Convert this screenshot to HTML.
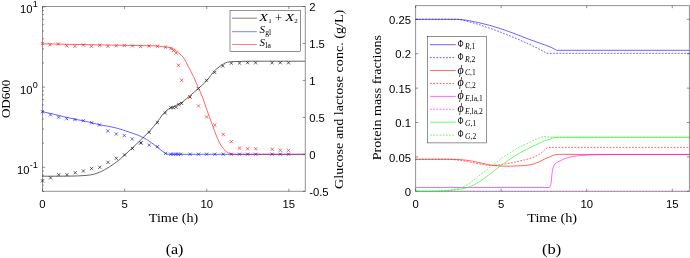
<!DOCTYPE html>
<html><head><meta charset="utf-8"><style>
html,body{margin:0;padding:0;background:#fff;}
svg{display:block;will-change:transform;}
</style></head><body>
<svg width="690" height="258" viewBox="0 0 690 258">
<rect width="690" height="258" fill="#fff"/>
<g>
<line x1="42.5" y1="6.5" x2="305.3" y2="6.5" stroke="#262626" stroke-width="0.5"/>
<line x1="42.5" y1="191.3" x2="305.3" y2="191.3" stroke="#262626" stroke-width="0.5"/>
<line x1="42.5" y1="6.5" x2="42.5" y2="191.3" stroke="#262626" stroke-width="0.5"/>
<line x1="305.3" y1="6.5" x2="305.3" y2="191.3" stroke="#262626" stroke-width="0.5"/>
<line x1="42.5" y1="191.3" x2="42.5" y2="188.7" stroke="#262626" stroke-width="0.5"/>
<line x1="42.5" y1="6.5" x2="42.5" y2="9.1" stroke="#262626" stroke-width="0.5"/>
<text x="42.5" y="208.2" font-size="11.3" text-anchor="middle" font-family='"Liberation Sans", sans-serif'>0</text>
<line x1="124.62" y1="191.3" x2="124.62" y2="188.7" stroke="#262626" stroke-width="0.5"/>
<line x1="124.62" y1="6.5" x2="124.62" y2="9.1" stroke="#262626" stroke-width="0.5"/>
<text x="124.62" y="208.2" font-size="11.3" text-anchor="middle" font-family='"Liberation Sans", sans-serif'>5</text>
<line x1="206.75" y1="191.3" x2="206.75" y2="188.7" stroke="#262626" stroke-width="0.5"/>
<line x1="206.75" y1="6.5" x2="206.75" y2="9.1" stroke="#262626" stroke-width="0.5"/>
<text x="206.75" y="208.2" font-size="11.3" text-anchor="middle" font-family='"Liberation Sans", sans-serif'>10</text>
<line x1="288.88" y1="191.3" x2="288.88" y2="188.7" stroke="#262626" stroke-width="0.5"/>
<line x1="288.88" y1="6.5" x2="288.88" y2="9.1" stroke="#262626" stroke-width="0.5"/>
<text x="288.88" y="208.2" font-size="11.3" text-anchor="middle" font-family='"Liberation Sans", sans-serif'>15</text>
<line x1="42.5" y1="191.44" x2="44.06" y2="191.44" stroke="#262626" stroke-width="0.5"/>
<line x1="42.5" y1="185.09" x2="44.06" y2="185.09" stroke="#262626" stroke-width="0.5"/>
<line x1="42.5" y1="179.72" x2="44.06" y2="179.72" stroke="#262626" stroke-width="0.5"/>
<line x1="42.5" y1="175.07" x2="44.06" y2="175.07" stroke="#262626" stroke-width="0.5"/>
<line x1="42.5" y1="170.97" x2="44.06" y2="170.97" stroke="#262626" stroke-width="0.5"/>
<line x1="42.5" y1="167.3" x2="45.1" y2="167.3" stroke="#262626" stroke-width="0.5"/>
<line x1="42.5" y1="143.16" x2="44.06" y2="143.16" stroke="#262626" stroke-width="0.5"/>
<line x1="42.5" y1="129.03" x2="44.06" y2="129.03" stroke="#262626" stroke-width="0.5"/>
<line x1="42.5" y1="119.01" x2="44.06" y2="119.01" stroke="#262626" stroke-width="0.5"/>
<line x1="42.5" y1="111.24" x2="44.06" y2="111.24" stroke="#262626" stroke-width="0.5"/>
<line x1="42.5" y1="104.89" x2="44.06" y2="104.89" stroke="#262626" stroke-width="0.5"/>
<line x1="42.5" y1="99.52" x2="44.06" y2="99.52" stroke="#262626" stroke-width="0.5"/>
<line x1="42.5" y1="94.87" x2="44.06" y2="94.87" stroke="#262626" stroke-width="0.5"/>
<line x1="42.5" y1="90.77" x2="44.06" y2="90.77" stroke="#262626" stroke-width="0.5"/>
<line x1="42.5" y1="87.1" x2="45.1" y2="87.1" stroke="#262626" stroke-width="0.5"/>
<line x1="42.5" y1="62.96" x2="44.06" y2="62.96" stroke="#262626" stroke-width="0.5"/>
<line x1="42.5" y1="48.83" x2="44.06" y2="48.83" stroke="#262626" stroke-width="0.5"/>
<line x1="42.5" y1="38.81" x2="44.06" y2="38.81" stroke="#262626" stroke-width="0.5"/>
<line x1="42.5" y1="31.04" x2="44.06" y2="31.04" stroke="#262626" stroke-width="0.5"/>
<line x1="42.5" y1="24.69" x2="44.06" y2="24.69" stroke="#262626" stroke-width="0.5"/>
<line x1="42.5" y1="19.32" x2="44.06" y2="19.32" stroke="#262626" stroke-width="0.5"/>
<line x1="42.5" y1="14.67" x2="44.06" y2="14.67" stroke="#262626" stroke-width="0.5"/>
<line x1="42.5" y1="10.57" x2="44.06" y2="10.57" stroke="#262626" stroke-width="0.5"/>
<line x1="42.5" y1="6.9" x2="45.1" y2="6.9" stroke="#262626" stroke-width="0.5"/>
<line x1="305.3" y1="191.3" x2="302.7" y2="191.3" stroke="#262626" stroke-width="0.5"/>
<text x="309.2" y="196.2" font-size="11.3" text-anchor="start" font-family='"Liberation Sans", sans-serif'>-0.5</text>
<line x1="305.3" y1="154.34" x2="302.7" y2="154.34" stroke="#262626" stroke-width="0.5"/>
<text x="309.2" y="159.24" font-size="11.3" text-anchor="start" font-family='"Liberation Sans", sans-serif'>0</text>
<line x1="305.3" y1="117.38" x2="302.7" y2="117.38" stroke="#262626" stroke-width="0.5"/>
<text x="309.2" y="122.28" font-size="11.3" text-anchor="start" font-family='"Liberation Sans", sans-serif'>0.5</text>
<line x1="305.3" y1="80.42" x2="302.7" y2="80.42" stroke="#262626" stroke-width="0.5"/>
<text x="309.2" y="85.32" font-size="11.3" text-anchor="start" font-family='"Liberation Sans", sans-serif'>1</text>
<line x1="305.3" y1="43.46" x2="302.7" y2="43.46" stroke="#262626" stroke-width="0.5"/>
<text x="309.2" y="48.36" font-size="11.3" text-anchor="start" font-family='"Liberation Sans", sans-serif'>1.5</text>
<line x1="305.3" y1="6.5" x2="302.7" y2="6.5" stroke="#262626" stroke-width="0.5"/>
<text x="309.2" y="11.4" font-size="11.3" text-anchor="start" font-family='"Liberation Sans", sans-serif'>2</text>
<text x="20" y="12.9" font-size="11.2" font-family='"Liberation Sans", sans-serif'>10<tspan font-size="9" dx="0.2" dy="-6.1">1</tspan></text>
<text x="20" y="93.6" font-size="11.2" font-family='"Liberation Sans", sans-serif'>10<tspan font-size="9" dx="0.2" dy="-6.1">0</tspan></text>
<text x="17" y="173.9" font-size="11.2" font-family='"Liberation Sans", sans-serif'>10<tspan font-size="9" dx="0.2" dy="-6.1">-1</tspan></text>
<path d="M42.4,111.7 C45.47,112.37 48.54,112.98 51.6,113.7 C55.51,114.62 59.39,115.68 63.3,116.6 C67.16,117.51 71.02,118.38 74.9,119.2 C78.76,120.01 82.66,120.63 86.5,121.5 C91.02,122.53 95.47,123.9 100,124.9 C102.57,125.47 105.21,125.72 107.8,126.2 C110.38,126.68 112.96,127.16 115.5,127.8 C118.13,128.46 120.72,129.28 123.3,130.1 C125.88,130.92 128.44,131.81 131,132.7 C133.61,133.61 136.27,134.41 138.8,135.5 C141.44,136.64 144.04,137.92 146.5,139.4 C149.21,141.02 151.76,142.92 154.3,144.8 C156.43,146.38 158.41,148.16 160.5,149.8 C161.81,150.83 163.11,151.9 164.5,152.8 C165.27,153.3 166.12,153.76 167,154 C167.95,154.26 169,154.3 170,154.3 C215,154.4 260,154.3 305,154.3" stroke="#0000ff" stroke-width="0.6" fill="none"/>
<path d="M40.8,110.1 L44,113.3 M40.8,113.3 L44,110.1 M48.9,113.3 L52.1,116.5 M48.9,116.5 L52.1,113.3 M57,115.6 L60.2,118.8 M57,118.8 L60.2,115.6 M65.1,117.1 L68.3,120.3 M65.1,120.3 L68.3,117.1 M73.3,117.9 L76.5,121.1 M73.3,121.1 L76.5,117.9 M81.7,119.1 L84.9,122.3 M81.7,122.3 L84.9,119.1 M90.1,121.1 L93.3,124.3 M90.1,124.3 L93.3,121.1 M97.9,123.3 L101.1,126.5 M97.9,126.5 L101.1,123.3 M106.2,129.3 L109.4,132.5 M106.2,132.5 L109.4,129.3 M114.7,132.4 L117.9,135.6 M114.7,135.6 L117.9,132.4 M122.7,133.9 L125.9,137.1 M122.7,137.1 L125.9,133.9 M130.7,137.3 L133.9,140.5 M130.7,140.5 L133.9,137.3 M139.2,141.4 L142.4,144.6 M139.2,144.6 L142.4,141.4 M147.6,143.5 L150.8,146.7 M147.6,146.7 L150.8,143.5 M155.8,145.1 L159,148.3 M155.8,148.3 L159,145.1 M164,151.8 L167.2,155 M164,155 L167.2,151.8 M169.2,152.6 L172.4,155.8 M169.2,155.8 L172.4,152.6 M171.7,152.6 L174.9,155.8 M171.7,155.8 L174.9,152.6 M174.2,152.6 L177.4,155.8 M174.2,155.8 L177.4,152.6 M176.6,152.6 L179.8,155.8 M176.6,155.8 L179.8,152.6 M179.1,152.6 L182.3,155.8 M179.1,155.8 L182.3,152.6 M188.5,152.6 L191.7,155.8 M188.5,155.8 L191.7,152.6 M196.9,152.6 L200.1,155.8 M196.9,155.8 L200.1,152.6 M205,152.6 L208.2,155.8 M205,155.8 L208.2,152.6 M213.2,152.6 L216.4,155.8 M213.2,155.8 L216.4,152.6 M221.6,152.6 L224.8,155.8 M221.6,155.8 L224.8,152.6 M229.7,152.6 L232.9,155.8 M229.7,155.8 L232.9,152.6 M237.9,152.6 L241.1,155.8 M237.9,155.8 L241.1,152.6 M246,152.6 L249.2,155.8 M246,155.8 L249.2,152.6 M254.1,152.6 L257.3,155.8 M254.1,155.8 L257.3,152.6 M270.5,152.6 L273.7,155.8 M270.5,155.8 L273.7,152.6 M278.7,152.6 L281.9,155.8 M278.7,155.8 L281.9,152.6 M286.9,152.6 L290.1,155.8 M286.9,155.8 L290.1,152.6 " stroke="#0000ff" stroke-width="0.6" fill="none"/>
<path d="M42.4,176.2 C48.27,176.2 54.13,176.24 60,176.2 C65,176.17 70,176.14 75,176 C78.34,175.91 81.68,175.82 85,175.5 C88.18,175.19 91.45,174.98 94.5,174.1 C97.92,173.11 101.24,171.57 104.4,169.9 C107.84,168.07 111.07,165.8 114.3,163.6 C116.27,162.26 118.18,160.83 120,159.3 C122.08,157.56 124.01,155.64 126,153.8 C128.01,151.94 130,150.07 132,148.2 C134.6,145.77 137.25,143.38 139.8,140.9 C143.15,137.65 146.54,134.43 149.7,131 C152.41,128.06 154.93,124.94 157.4,121.8 C159.13,119.61 160.56,117.18 162.3,115 C163.43,113.58 164.65,112.2 166,111 C167.21,109.93 168.6,109.01 170,108.2 C171.26,107.47 172.68,107.03 174,106.4 C175.55,105.66 177.08,104.89 178.6,104.1 C179.84,103.46 181.17,102.92 182.3,102.1 C184.87,100.22 187.26,98.06 189.7,96 C192.62,93.53 195.56,91.06 198.4,88.5 C201.36,85.83 204.43,83.24 207.1,80.3 C209.6,77.54 211.47,74.22 213.9,71.4 C215.04,70.08 216.44,68.99 217.8,67.9 C219.01,66.93 220.3,66.05 221.6,65.2 C222.86,64.38 224.12,63.48 225.5,62.9 C226.72,62.38 228.07,62.06 229.4,61.9 C231.94,61.59 234.53,61.59 237.1,61.5 C241.4,61.35 245.7,61.22 250,61.2 C268.33,61.12 286.67,61.2 305,61.2" stroke="#000000" stroke-width="0.6" fill="none"/>
<path d="M40.8,179.3 L44,182.5 M40.8,182.5 L44,179.3 M49,176.3 L52.2,179.5 M49,179.5 L52.2,176.3 M57.2,173.1 L60.4,176.3 M57.2,176.3 L60.4,173.1 M65.4,173.1 L68.6,176.3 M65.4,176.3 L68.6,173.1 M73.6,171.1 L76.8,174.3 M73.6,174.3 L76.8,171.1 M81.8,169.4 L85,172.6 M81.8,172.6 L85,169.4 M90,166.9 L93.2,170.1 M90,170.1 L93.2,166.9 M98.2,165.7 L101.4,168.9 M98.2,168.9 L101.4,165.7 M106.4,160.7 L109.6,163.9 M106.4,163.9 L109.6,160.7 M114.7,156.7 L117.9,159.9 M114.7,159.9 L117.9,156.7 M122.9,153.3 L126.1,156.5 M122.9,156.5 L126.1,153.3 M130.9,146.9 L134.1,150.1 M130.9,150.1 L134.1,146.9 M139.3,141.2 L142.5,144.4 M139.3,144.4 L142.5,141.2 M147.6,130.7 L150.8,133.9 M147.6,133.9 L150.8,130.7 M155.8,121 L159,124.2 M155.8,124.2 L159,121 M163.7,111.4 L166.9,114.6 M163.7,114.6 L166.9,111.4 M169.2,106 L172.4,109.2 M169.2,109.2 L172.4,106 M171.7,106.2 L174.9,109.4 M171.7,109.4 L174.9,106.2 M174.4,105.6 L177.6,108.8 M174.4,108.8 L177.6,105.6 M177.2,103 L180.4,106.2 M177.2,106.2 L180.4,103 M180,101.8 L183.2,105 M180,105 L183.2,101.8 M188.3,95.4 L191.5,98.6 M188.3,98.6 L191.5,95.4 M196.7,86.9 L199.9,90.1 M196.7,90.1 L199.9,86.9 M204.9,78.7 L208.1,81.9 M204.9,81.9 L208.1,78.7 M213.1,70.8 L216.3,74 M213.1,74 L216.3,70.8 M221.2,64.4 L224.4,67.6 M221.2,67.6 L224.4,64.4 M229.7,61.6 L232.9,64.8 M229.7,64.8 L232.9,61.6 M237.9,61.5 L241.1,64.7 M237.9,64.7 L241.1,61.5 M246,61.1 L249.2,64.3 M246,64.3 L249.2,61.1 M254,61.2 L257.2,64.4 M254,64.4 L257.2,61.2 M270.5,61.2 L273.7,64.4 M270.5,64.4 L273.7,61.2 M278.7,61.2 L281.9,64.4 M278.7,64.4 L281.9,61.2 M286.9,61.2 L290.1,64.4 M286.9,64.4 L290.1,61.2 " stroke="#000000" stroke-width="0.6" fill="none"/>
<path d="M42.5,43.8 C55,44.03 67.5,44.26 80,44.5 C95.33,44.79 110.67,45.11 126,45.4 C135.67,45.58 145.34,45.56 155,45.9 C157.61,45.99 160.2,46.42 162.8,46.7 C164.53,46.89 166.28,47.02 168,47.3 C169.18,47.49 170.38,47.69 171.5,48.1 C172.58,48.49 173.63,49.06 174.6,49.7 C175.9,50.56 177.13,51.56 178.3,52.6 C180.16,54.26 182.27,55.79 183.7,57.8 C185.6,60.46 186.77,63.66 188.3,66.6 C190.24,70.33 192.3,74.01 194.1,77.8 C195.53,80.81 196.67,83.95 198,87 C199.4,90.21 201.03,93.33 202.3,96.6 C203.9,100.73 205.13,105.01 206.6,109.2 C208.03,113.25 209.53,117.27 211,121.3 C212.43,125.2 213.76,129.14 215.3,133 C216.66,136.41 217.98,139.87 219.7,143.1 C220.91,145.37 222.41,147.57 224.1,149.5 C225.31,150.87 226.81,152.14 228.4,153 C229.71,153.71 231.3,154.03 232.8,154.2 C235.17,154.47 237.6,154.3 240,154.3 C261.67,154.33 283.33,154.3 305,154.3" stroke="#ff0000" stroke-width="0.6" fill="none"/>
<path d="M40.8,41.9 L44,45.1 M40.8,45.1 L44,41.9 M48.5,43.2 L51.7,46.4 M48.5,46.4 L51.7,43.2 M56.7,42.4 L59.9,45.6 M56.7,45.6 L59.9,42.4 M65.2,44.2 L68.4,47.4 M65.2,47.4 L68.4,44.2 M73.3,44.7 L76.5,47.9 M73.3,47.9 L76.5,44.7 M81.8,43.4 L85,46.6 M81.8,46.6 L85,43.4 M89.9,44.7 L93.1,47.9 M89.9,47.9 L93.1,44.7 M98.1,43.7 L101.3,46.9 M98.1,46.9 L101.3,43.7 M106.3,44.7 L109.5,47.9 M106.3,47.9 L109.5,44.7 M114.7,44.2 L117.9,47.4 M114.7,47.4 L117.9,44.2 M122.7,43.9 L125.9,47.1 M122.7,47.1 L125.9,43.9 M130.8,44.4 L134,47.6 M130.8,47.6 L134,44.4 M139,45 L142.2,48.2 M139,48.2 L142.2,45 M147.4,44.4 L150.6,47.6 M147.4,47.6 L150.6,44.4 M155.8,44.7 L159,47.9 M155.8,47.9 L159,44.7 M163.9,45.5 L167.1,48.7 M163.9,48.7 L167.1,45.5 M169.3,46.9 L172.5,50.1 M169.3,50.1 L172.5,46.9 M172,49 L175.2,52.2 M172,52.2 L175.2,49 M174.6,51.4 L177.8,54.6 M174.6,54.6 L177.8,51.4 M176.9,63.6 L180.1,66.8 M176.9,66.8 L180.1,63.6 M180.1,78.7 L183.3,81.9 M180.1,81.9 L183.3,78.7 M188.4,95.3 L191.6,98.5 M188.4,98.5 L191.6,95.3 M196.9,104.3 L200.1,107.5 M196.9,107.5 L200.1,104.3 M205,115.4 L208.2,118.6 M205,118.6 L208.2,115.4 M213.2,123.5 L216.4,126.7 M213.2,126.7 L216.4,123.5 M221.6,132.8 L224.8,136 M221.6,136 L224.8,132.8 M229.7,140.1 L232.9,143.3 M229.7,143.3 L232.9,140.1 M237.9,146.5 L241.1,149.7 M237.9,149.7 L241.1,146.5 M246,147.2 L249.2,150.4 M246,150.4 L249.2,147.2 M254.1,147.2 L257.3,150.4 M254.1,150.4 L257.3,147.2 M270.6,147.7 L273.8,150.9 M270.6,150.9 L273.8,147.7 M278.8,148.7 L282,151.9 M278.8,151.9 L282,148.7 M286.9,148.7 L290.1,151.9 M286.9,151.9 L290.1,148.7 " stroke="#ff0000" stroke-width="0.6" fill="none"/>
<rect x="230" y="10.5" width="70.5" height="40.8" fill="#fff" stroke="#262626" stroke-width="0.5"/>
<line x1="231.9" y1="18.2" x2="256.9" y2="18.2" stroke="#000000" stroke-width="0.5"/>
<line x1="231.9" y1="31.7" x2="256.9" y2="31.7" stroke="#0000ff" stroke-width="0.5"/>
<line x1="231.9" y1="44.5" x2="256.9" y2="44.5" stroke="#ff0000" stroke-width="0.5"/>
<text x="259.2" y="20.6" font-size="11.2" text-anchor="start" font-family='"Liberation Serif", serif' font-style="italic" textLength="8.6" lengthAdjust="spacingAndGlyphs">X</text>
<text x="268.2" y="22.5" font-size="7" text-anchor="start" font-family='"Liberation Serif", serif'>1</text>
<text x="278.5" y="21.6" font-size="12.5" text-anchor="middle" font-family='"Liberation Serif", serif'>+</text>
<text x="285.3" y="20.6" font-size="11.2" text-anchor="start" font-family='"Liberation Serif", serif' font-style="italic" textLength="8.9" lengthAdjust="spacingAndGlyphs">X</text>
<text x="294.2" y="22.5" font-size="7" text-anchor="start" font-family='"Liberation Serif", serif'>2</text>
<text x="259.6" y="33.2" font-size="11" text-anchor="start" font-family='"Liberation Serif", serif' font-style="italic">S</text>
<text x="265.3" y="34.6" font-size="7.6" text-anchor="start" font-family='"Liberation Serif", serif'>gl</text>
<text x="259.6" y="46.3" font-size="11" text-anchor="start" font-family='"Liberation Serif", serif' font-style="italic">S</text>
<text x="265.3" y="47.6" font-size="7.6" text-anchor="start" font-family='"Liberation Serif", serif'>la</text>
<text x="173.5" y="221.7" font-size="13.4" text-anchor="middle" font-family='"Liberation Serif", serif' textLength="49.4" lengthAdjust="spacingAndGlyphs">Time (h)</text>
<text x="174.55" y="253.6" font-size="15.5" text-anchor="middle" font-family='"Liberation Serif", serif' textLength="17.8" lengthAdjust="spacingAndGlyphs">(a)</text>
<text transform="translate(9.6,98.9) rotate(-90)" font-size="13.3" text-anchor="middle" textLength="38.4" lengthAdjust="spacingAndGlyphs" font-family='"Liberation Serif", serif'>OD600</text>
<text transform="translate(342.9,99.3) rotate(-90)" font-size="13.3" text-anchor="middle" textLength="179.2" lengthAdjust="spacingAndGlyphs" font-family='"Liberation Serif", serif'>Glucose and lactose conc. (g/L)</text>
</g>
<g>
<line x1="415.6" y1="5.6" x2="689.4" y2="5.6" stroke="#262626" stroke-width="0.5"/>
<line x1="415.6" y1="191.3" x2="689.4" y2="191.3" stroke="#262626" stroke-width="0.5"/>
<line x1="415.6" y1="5.6" x2="415.6" y2="191.3" stroke="#262626" stroke-width="0.5"/>
<line x1="689.4" y1="5.6" x2="689.4" y2="191.3" stroke="#262626" stroke-width="0.5"/>
<line x1="415.6" y1="191.3" x2="415.6" y2="188.7" stroke="#262626" stroke-width="0.5"/>
<line x1="415.6" y1="5.6" x2="415.6" y2="8.2" stroke="#262626" stroke-width="0.5"/>
<text x="415.6" y="208.2" font-size="11.3" text-anchor="middle" font-family='"Liberation Sans", sans-serif'>0</text>
<line x1="501.16" y1="191.3" x2="501.16" y2="188.7" stroke="#262626" stroke-width="0.5"/>
<line x1="501.16" y1="5.6" x2="501.16" y2="8.2" stroke="#262626" stroke-width="0.5"/>
<text x="501.16" y="208.2" font-size="11.3" text-anchor="middle" font-family='"Liberation Sans", sans-serif'>5</text>
<line x1="586.73" y1="191.3" x2="586.73" y2="188.7" stroke="#262626" stroke-width="0.5"/>
<line x1="586.73" y1="5.6" x2="586.73" y2="8.2" stroke="#262626" stroke-width="0.5"/>
<text x="586.73" y="208.2" font-size="11.3" text-anchor="middle" font-family='"Liberation Sans", sans-serif'>10</text>
<line x1="672.29" y1="191.3" x2="672.29" y2="188.7" stroke="#262626" stroke-width="0.5"/>
<line x1="672.29" y1="5.6" x2="672.29" y2="8.2" stroke="#262626" stroke-width="0.5"/>
<text x="672.29" y="208.2" font-size="11.3" text-anchor="middle" font-family='"Liberation Sans", sans-serif'>15</text>
<line x1="415.6" y1="191.3" x2="418.2" y2="191.3" stroke="#262626" stroke-width="0.5"/>
<line x1="689.4" y1="191.3" x2="686.8" y2="191.3" stroke="#262626" stroke-width="0.5"/>
<text x="411" y="195.9" font-size="11.3" text-anchor="end" font-family='"Liberation Sans", sans-serif'>0</text>
<line x1="415.6" y1="156.91" x2="418.2" y2="156.91" stroke="#262626" stroke-width="0.5"/>
<line x1="689.4" y1="156.91" x2="686.8" y2="156.91" stroke="#262626" stroke-width="0.5"/>
<text x="411" y="161.51" font-size="11.3" text-anchor="end" font-family='"Liberation Sans", sans-serif'>0.05</text>
<line x1="415.6" y1="122.52" x2="418.2" y2="122.52" stroke="#262626" stroke-width="0.5"/>
<line x1="689.4" y1="122.52" x2="686.8" y2="122.52" stroke="#262626" stroke-width="0.5"/>
<text x="411" y="127.12" font-size="11.3" text-anchor="end" font-family='"Liberation Sans", sans-serif'>0.1</text>
<line x1="415.6" y1="88.13" x2="418.2" y2="88.13" stroke="#262626" stroke-width="0.5"/>
<line x1="689.4" y1="88.13" x2="686.8" y2="88.13" stroke="#262626" stroke-width="0.5"/>
<text x="411" y="92.73" font-size="11.3" text-anchor="end" font-family='"Liberation Sans", sans-serif'>0.15</text>
<line x1="415.6" y1="53.74" x2="418.2" y2="53.74" stroke="#262626" stroke-width="0.5"/>
<line x1="689.4" y1="53.74" x2="686.8" y2="53.74" stroke="#262626" stroke-width="0.5"/>
<text x="411" y="58.34" font-size="11.3" text-anchor="end" font-family='"Liberation Sans", sans-serif'>0.2</text>
<line x1="415.6" y1="19.36" x2="418.2" y2="19.36" stroke="#262626" stroke-width="0.5"/>
<line x1="689.4" y1="19.36" x2="686.8" y2="19.36" stroke="#262626" stroke-width="0.5"/>
<text x="411" y="23.96" font-size="11.3" text-anchor="end" font-family='"Liberation Sans", sans-serif'>0.25</text>
<path d="M415.6,191.3 L689.4,191.3" stroke="#ff00ff" stroke-width="0.45" fill="none" stroke-dasharray="1.2,2"/>
<path d="M415.6,19.3 C428.73,19.3 441.87,19.27 455,19.3 C456.67,19.3 458.34,19.23 460,19.4 C463.24,19.73 466.48,20.24 469.7,20.8 C472.95,21.37 476.18,22.07 479.4,22.8 C482.65,23.54 485.89,24.32 489.1,25.2 C492.35,26.09 495.58,27.09 498.8,28.1 C500.88,28.75 502.94,29.47 505,30.2 C508.88,31.57 512.75,32.95 516.6,34.4 C520.52,35.88 524.38,37.52 528.3,39 C532.15,40.45 536.04,41.79 539.9,43.2 C543.77,44.62 547.72,45.87 551.5,47.5 C553.22,48.24 554.77,49.37 556.4,50.3 L689.4,50.3" stroke="#0000ff" stroke-width="0.6" fill="none"/>
<path d="M415.6,19.3 C427.73,19.3 439.87,19.19 452,19.3 C454.67,19.32 457.37,19.3 460,19.7 C463.27,20.2 466.48,21.17 469.7,22 C472.95,22.84 476.2,23.69 479.4,24.7 C482.67,25.73 485.87,26.97 489.1,28.1 C492.33,29.23 495.59,30.31 498.8,31.5 C500.89,32.28 502.93,33.17 505,34 C508.86,35.54 512.77,36.99 516.6,38.6 C520.53,40.25 524.43,42.01 528.3,43.8 C532.2,45.61 536.08,47.45 539.9,49.4 C542.28,50.61 544.57,52 546.9,53.3 L689.4,53.3" stroke="#0000ff" stroke-width="0.6" fill="none" stroke-dasharray="1.8,1.4"/>
<path d="M415.6,159.3 C427.07,159.3 438.53,159.22 450,159.3 C453.47,159.32 456.95,159.34 460.4,159.6 C463.91,159.87 467.42,160.32 470.9,160.9 C474.39,161.48 477.83,162.38 481.3,163.1 C484.76,163.82 488.2,164.7 491.7,165.2 C495.17,165.7 498.69,165.95 502.2,166.1 C505.66,166.25 509.14,166.18 512.6,166.1 C516.07,166.02 519.54,165.83 523,165.6 C525,165.47 527.02,165.3 529,165 C530.52,164.77 532.03,164.44 533.5,164 C535.06,163.54 536.6,162.94 538.1,162.3 C539.5,161.71 540.84,160.99 542.2,160.3 C543.48,159.65 544.7,158.89 546,158.3 C547,157.85 548.09,157.62 549.1,157.2 C550.26,156.72 551.32,156.01 552.5,155.6 C553.89,155.11 555.34,154.68 556.8,154.5 C558.51,154.28 560.27,154.43 562,154.4 L689.4,154.4" stroke="#ff0000" stroke-width="0.6" fill="none"/>
<path d="M415.6,159.3 C427.07,159.3 438.55,158.99 450,159.3 C453.48,159.39 456.95,160 460.4,160.5 C463.91,161 467.41,161.66 470.9,162.3 C474.37,162.93 477.81,163.76 481.3,164.3 C484.75,164.83 488.23,165.48 491.7,165.5 C495.2,165.52 498.72,164.88 502.2,164.4 C505.68,163.92 509.15,163.3 512.6,162.6 C516.09,161.9 519.54,161.01 523,160.2 C524.67,159.81 526.35,159.47 528,159 C529.85,158.47 531.71,157.91 533.5,157.2 C535.08,156.58 536.62,155.83 538.1,155 C539.46,154.23 540.78,153.37 542,152.4 C543.12,151.51 543.99,150.31 545.1,149.4 C545.83,148.81 546.64,148.23 547.5,147.9 C548.27,147.6 549.16,147.55 550,147.5 C551.99,147.38 554,147.43 556,147.4 L689.4,147.4" stroke="#ff0000" stroke-width="0.6" fill="none" stroke-dasharray="1.8,1.4"/>
<path d="M415.6,187.5 L549.2,187.5 L549.2,187.5 C549.73,186.57 550.56,185.73 550.8,184.7 C551.39,182.23 551.4,179.57 551.7,177 C551.97,174.73 552.03,172.42 552.5,170.2 C552.87,168.46 553.35,166.62 554.2,165.1 C554.78,164.06 555.81,163.19 556.8,162.5 C558.11,161.59 559.64,160.97 561.1,160.3 C562.77,159.54 564.45,158.76 566.2,158.2 C568.42,157.49 570.71,156.94 573,156.5 C575.24,156.07 577.52,155.81 579.8,155.6 C583.19,155.28 586.6,155.07 590,154.9 C593.33,154.74 596.67,154.64 600,154.6 C606.67,154.51 613.33,154.53 620,154.5 L689.4,154.5" stroke="#ff00ff" stroke-width="0.6" fill="none"/>
<path d="M415.6,191.3 C420.4,191.3 425.2,191.37 430,191.3 C434.53,191.24 439.08,191.18 443.6,190.9 C448.11,190.62 452.62,190.2 457.1,189.6 C460.29,189.17 463.52,188.7 466.6,187.8 C469.42,186.97 472.2,185.79 474.8,184.4 C478.1,182.63 481.21,180.44 484.3,178.3 C487.08,176.38 489.72,174.25 492.4,172.2 C495.68,169.69 498.82,166.98 502.2,164.6 C507.89,160.58 513.59,156.51 519.6,153 C525.19,149.74 531.17,147.13 537,144.3 C539.4,143.13 541.82,141.96 544.3,141 C545.85,140.4 547.52,140.13 549.1,139.6 C551.09,138.93 552.97,137.83 555,137.4 C556.61,137.06 558.33,137.33 560,137.3 L689.4,137.3" stroke="#00ff00" stroke-width="0.6" fill="none"/>
<path d="M415.6,191.3 C420.4,191.3 425.2,191.37 430,191.3 C434.53,191.24 439.09,191.29 443.6,190.9 C447.22,190.59 450.84,189.97 454.4,189.2 C457.61,188.5 460.89,187.76 463.9,186.5 C466.32,185.49 468.53,183.91 470.7,182.4 C473.07,180.75 475.23,178.8 477.5,177 C480.66,174.5 483.8,171.96 487,169.5 C490.57,166.76 494.23,164.14 497.8,161.4 C499.3,160.24 500.62,158.84 502.2,157.8 C507.89,154.04 513.65,150.32 519.6,147 C522.49,145.39 525.7,144.41 528.7,143 C531.67,141.61 534.48,139.84 537.5,138.6 C539.68,137.71 541.99,136.82 544.3,136.6 C546.53,136.39 548.83,137.16 551.1,137.3 C552.73,137.4 554.37,137.3 556,137.3 L689.4,137.3" stroke="#00ff00" stroke-width="0.6" fill="none" stroke-dasharray="1.8,1.4"/>
<rect x="427.4" y="36.5" width="59.1" height="106.4" fill="#fff" stroke="#262626" stroke-width="0.5"/>
<path d="M430,44.7 L455.8,44.7" stroke="#0000ff" stroke-width="0.6" fill="none"/>
<text x="457.8" y="46.7" font-size="9.8" text-anchor="start" font-family='"Liberation Serif", serif' textLength="5.7" lengthAdjust="spacingAndGlyphs">&#934;</text>
<text x="465" y="48.9" font-size="7.6" font-family='"Liberation Serif", serif'><tspan font-style="italic">R</tspan>,1</text>
<path d="M430,57.62 L455.2,57.62" stroke="#0000ff" stroke-width="0.6" fill="none" stroke-dasharray="1.8,1.4"/>
<text x="457.8" y="59.62" font-size="9.8" text-anchor="start" font-family='"Liberation Serif", serif' textLength="5.7" lengthAdjust="spacingAndGlyphs">&#934;</text>
<text x="465" y="61.82" font-size="7.6" font-family='"Liberation Serif", serif'><tspan font-style="italic">R</tspan>,2</text>
<path d="M430,70.54 L455.8,70.54" stroke="#ff0000" stroke-width="0.6" fill="none"/>
<text x="457.5" y="73.54" font-size="12" text-anchor="start" font-family='"Liberation Serif", serif' font-style="italic">&#981;</text>
<text x="465" y="74.74" font-size="7.6" font-family='"Liberation Serif", serif'><tspan font-style="italic">C</tspan>,1</text>
<path d="M430,83.46 L455.2,83.46" stroke="#ff0000" stroke-width="0.6" fill="none" stroke-dasharray="1.8,1.4"/>
<text x="457.5" y="86.46" font-size="12" text-anchor="start" font-family='"Liberation Serif", serif' font-style="italic">&#981;</text>
<text x="465" y="87.66" font-size="7.6" font-family='"Liberation Serif", serif'><tspan font-style="italic">C</tspan>,2</text>
<path d="M430,96.38 L455.8,96.38" stroke="#ff00ff" stroke-width="0.6" fill="none"/>
<text x="457.5" y="99.38" font-size="12" text-anchor="start" font-family='"Liberation Serif", serif' font-style="italic">&#981;</text>
<text x="465" y="100.58" font-size="7.6" font-family='"Liberation Serif", serif'><tspan font-style="italic">E</tspan>,la,1</text>
<path d="M430,109.3 L455.2,109.3" stroke="#ff00ff" stroke-width="0.6" fill="none" stroke-dasharray="1.8,1.4"/>
<text x="457.5" y="112.3" font-size="12" text-anchor="start" font-family='"Liberation Serif", serif' font-style="italic">&#981;</text>
<text x="465" y="113.5" font-size="7.6" font-family='"Liberation Serif", serif'><tspan font-style="italic">E</tspan>,la,2</text>
<path d="M430,122.22 L455.8,122.22" stroke="#00ff00" stroke-width="0.6" fill="none"/>
<text x="457.8" y="124.22" font-size="9.8" text-anchor="start" font-family='"Liberation Serif", serif' textLength="5.7" lengthAdjust="spacingAndGlyphs">&#934;</text>
<text x="465" y="126.42" font-size="7.6" font-family='"Liberation Serif", serif'><tspan font-style="italic">G</tspan>,1</text>
<path d="M430,135.14 L455.2,135.14" stroke="#00ff00" stroke-width="0.6" fill="none" stroke-dasharray="1.8,1.4"/>
<text x="457.8" y="137.14" font-size="9.8" text-anchor="start" font-family='"Liberation Serif", serif' textLength="5.7" lengthAdjust="spacingAndGlyphs">&#934;</text>
<text x="465" y="139.34" font-size="7.6" font-family='"Liberation Serif", serif'><tspan font-style="italic">G</tspan>,2</text>
<text x="552.15" y="221.9" font-size="13.4" text-anchor="middle" font-family='"Liberation Serif", serif' textLength="50" lengthAdjust="spacingAndGlyphs">Time (h)</text>
<text x="551.7" y="253.6" font-size="15.5" text-anchor="middle" font-family='"Liberation Serif", serif' textLength="19.2" lengthAdjust="spacingAndGlyphs">(b)</text>
<text transform="translate(380.8,97.6) rotate(-90)" font-size="13.3" text-anchor="middle" textLength="125.4" lengthAdjust="spacingAndGlyphs" font-family='"Liberation Serif", serif'>Protein mass fractions</text>
</g>
</svg>
</body></html>
